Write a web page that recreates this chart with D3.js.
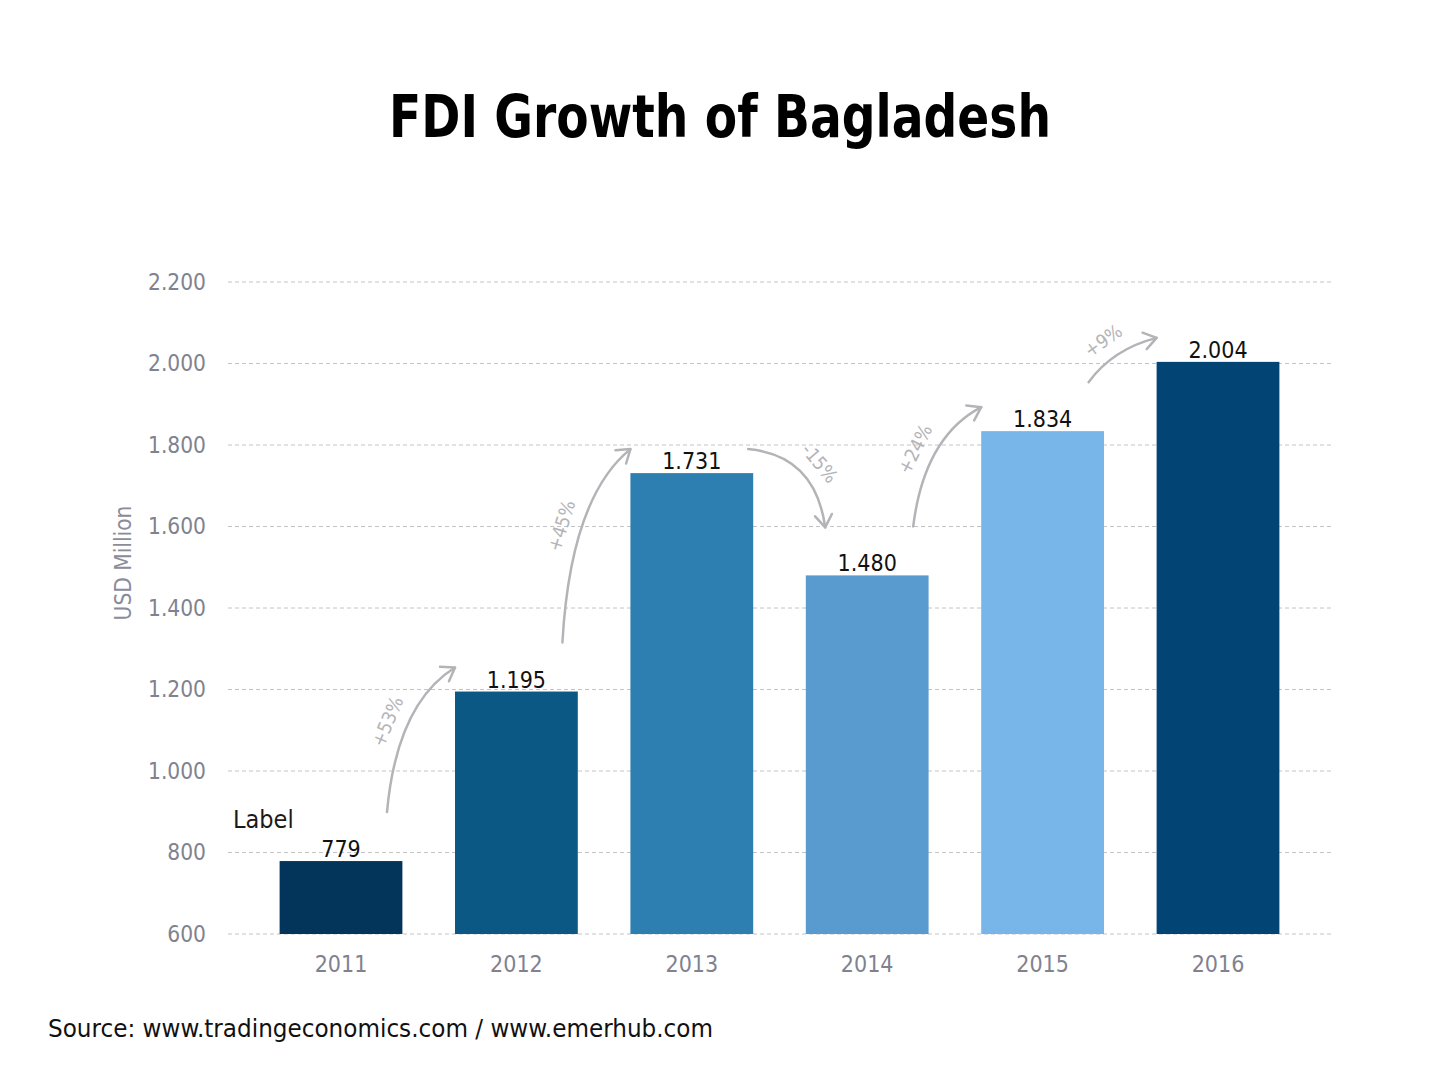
<!DOCTYPE html>
<html><head><meta charset="utf-8">
<script src="https://cdn.jsdelivr.net/npm/d3@7"></script>
<style>
html,body{margin:0;padding:0;background:#fff;}
svg{display:block;}
text{font-family:"Liberation Sans Narrow","DejaVu Sans Condensed","Roboto Condensed",sans-serif;}
</style></head>
<body>
<svg id="chart" width="1440" height="1080"></svg>
<script>
const years = ["2011","2012","2013","2014","2015","2016"];
const fdiValues = [779, 1195, 1731, 1480, 1834, 2004];
const barColors = ["#03355a","#0b5885","#2d7fb1","#599bce","#78b5e9","#024575"];
const yTicks = [600, 800, 1000, 1200, 1400, 1600, 1800, 2000, 2200];
const titleText = "FDI Growth of Bagladesh";
const yAxisTitle = "USD Million";
const sourceText = "Source: www.tradingeconomics.com / www.emerhub.com";
const annotationText = "Label";

const loc = d3.formatLocale({decimal: ",", thousands: ".", grouping: [3], currency: ["", ""]});
const fmt = loc.format(",d");

const svg = d3.select("#chart");
const gridLeft = 228, gridRight = 1332;
const x = d3.scaleBand().domain(years).range([253.3, 1305.7]).paddingInner(0.3).paddingOuter(0.15);
const y = d3.scaleLinear().domain([600, 2200]).range([934, 282]);

// title
svg.append("text").attr("x", 389).attr("y", 137)
  .attr("textLength", 662).attr("lengthAdjust", "spacingAndGlyphs")
  .attr("font-size", 58).attr("font-weight", "bold").attr("fill", "#000").text(titleText);

// gridlines
svg.append("g").selectAll("line").data(yTicks).join("line")
  .attr("x1", gridLeft).attr("x2", gridRight)
  .attr("y1", d => y(d)).attr("y2", d => y(d))
  .attr("stroke", "#c4c4c4").attr("stroke-width", 1).attr("stroke-dasharray", "4,3");

// y axis
const yAxis = d3.axisLeft(y).tickValues(yTicks).tickFormat(fmt).tickSize(0).tickPadding(0);
const gy = svg.append("g").attr("transform", "translate(206,0)").call(yAxis);
gy.select(".domain").remove();
gy.selectAll("text").attr("font-size", 22.5).attr("fill", "#808290")
  .attr("font-family", '"Liberation Sans Narrow","DejaVu Sans Condensed",sans-serif');

// x axis
const xAxis = d3.axisBottom(x).tickSize(0).tickPadding(0);
const gx = svg.append("g").attr("transform", "translate(0,955)").call(xAxis);
gx.select(".domain").remove();
gx.selectAll("text").attr("font-size", 23).attr("fill", "#808290").attr("dy", "0.72em")
  .attr("font-family", '"Liberation Sans Narrow","DejaVu Sans Condensed",sans-serif');

// y title
svg.append("text").attr("transform", "translate(131,563) rotate(-90)")
  .attr("text-anchor", "middle").attr("font-size", 22.5).attr("fill", "#8a8c99").text(yAxisTitle);

// bars
const data = years.map((yr, i) => ({year: yr, value: fdiValues[i], color: barColors[i]}));
svg.append("g").selectAll("rect").data(data).join("rect")
  .attr("x", d => x(d.year)).attr("width", x.bandwidth())
  .attr("y", d => y(d.value)).attr("height", d => y(600) - y(d.value))
  .attr("fill", d => d.color);

// value labels
svg.append("g").selectAll("text").data(data).join("text")
  .attr("x", d => x(d.year) + x.bandwidth() / 2).attr("y", d => y(d.value) - 4)
  .attr("text-anchor", "middle").attr("font-size", 23).attr("fill", "#111")
  .text(d => fmt(d.value));

// annotation
svg.append("text").attr("x", 233).attr("y", 828).attr("font-size", 25).attr("fill", "#1a1a1a").text(annotationText);

// growth arrows
const arrowColor = "#b4b4b8";
const ga = svg.append("g");
function qpt(p0, c, p1, t) {
  const a = (1 - t) * (1 - t), b = 2 * t * (1 - t), e = t * t;
  return [a * p0[0] + b * c[0] + e * p1[0], a * p0[1] + b * c[1] + e * p1[1]];
}
function qtan(p0, c, p1, t) {
  const tx = 2 * (1 - t) * (c[0] - p0[0]) + 2 * t * (p1[0] - c[0]);
  const ty = 2 * (1 - t) * (c[1] - p0[1]) + 2 * t * (p1[1] - c[1]);
  const l = Math.hypot(tx, ty);
  return [tx / l, ty / l];
}
for (let i = 0; i < data.length - 1; i++) {
  const a = data[i], b = data[i + 1];
  const pct = Math.round((b.value - a.value) / a.value * 100);
  const up = b.value >= a.value;
  let p0, p1, c, lt;
  if (up) {
    p0 = [x(a.year) + x.bandwidth() / 2 + 46, y(a.value) - 49];
    p1 = [x(b.year), y(b.value) - 24];
    const dx = p1[0] - p0[0], dy = p1[1] - p0[1];
    const f = Math.min(0.4, 0.05 + 0.2 * dx / Math.abs(dy));
    c = [p0[0] + f * dx, p0[1] + 0.75 * dy];
    lt = 0.45;
  } else {
    p0 = [x(a.year) + x.bandwidth() - 5, y(a.value) - 24];
    p1 = [x(b.year) + x.bandwidth() / 2 - 42, y(b.value) - 48];
    c = [p1[0] - 10, p0[1] + 6];
    lt = 0.55;
  }
  ga.append("path").attr("d", `M${p0[0]},${p0[1]} Q${c[0]},${c[1]} ${p1[0]},${p1[1]}`)
    .attr("fill", "none").attr("stroke", arrowColor).attr("stroke-width", 2.5).attr("stroke-linecap", "round");
  const dir = qtan(p0, c, p1, 1);
  const ang = Math.atan2(dir[1], dir[0]);
  const hl = 15, ha = 0.6;
  const h1 = [p1[0] - hl * Math.cos(ang - ha), p1[1] - hl * Math.sin(ang - ha)];
  const h2 = [p1[0] - hl * Math.cos(ang + ha), p1[1] - hl * Math.sin(ang + ha)];
  ga.append("path").attr("d", `M${h1[0]},${h1[1]} L${p1[0]},${p1[1]} L${h2[0]},${h2[1]}`)
    .attr("fill", "none").attr("stroke", arrowColor).attr("stroke-width", 2.5)
    .attr("stroke-linecap", "round").attr("stroke-linejoin", "round");
  const lp = qpt(p0, c, p1, lt), tn = qtan(p0, c, p1, lt);
  const off = 20;
  const lx = lp[0] + tn[1] * off, ly = lp[1] - tn[0] * off;
  const rot = Math.atan2(tn[1], tn[0]) * 180 / Math.PI;
  ga.append("text").attr("transform", `translate(${lx},${ly}) rotate(${rot})`)
    .attr("text-anchor", "middle").attr("dominant-baseline", "central")
    .attr("font-size", 19).attr("fill", arrowColor)
    .text((pct >= 0 ? "+" : "-") + Math.abs(pct) + "%");
}

// source
svg.append("text").attr("x", 48).attr("y", 1037)
  .attr("textLength", 665).attr("lengthAdjust", "spacingAndGlyphs")
  .attr("font-size", 25).attr("fill", "#111").text(sourceText);
</script>
</body></html>
